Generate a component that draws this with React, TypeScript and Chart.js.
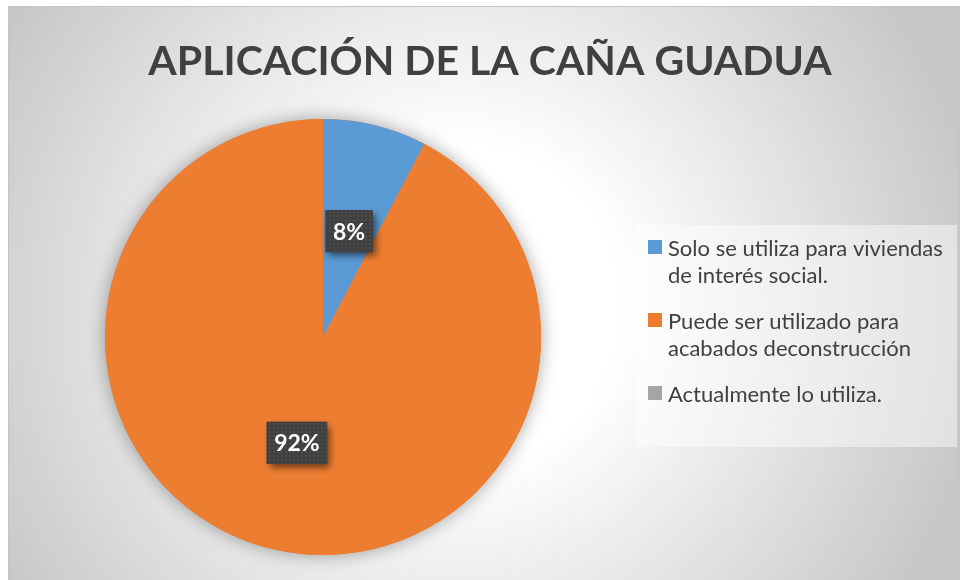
import React, { useEffect, useRef } from "react";
import { Chart, registerables } from "chart.js";

Chart.register(...registerables);

const TITLE = "APLICACIÓN DE LA CAÑA GUADUA";
const CATEGORIES: string[][] = [
  ["Solo se utiliza para viviendas", "de interés social."],
  ["Puede ser utilizado para", "acabados deconstrucción"],
  ["Actualmente lo utiliza."],
];
const VALUES = [1, 12, 0];
const COLORS = ["#5B9BD5", "#ED7D31", "#A5A5A5"];
const FONT = "Lato, Carlito, 'Open Sans', sans-serif";
const TEXT_COLOR = "#404040";

const W = 952;
const H = 574;

const backgroundPlugin = {
  id: "bgPlugin",
  beforeDraw(chart: any) {
    const ctx = chart.ctx as CanvasRenderingContext2D;
    ctx.save();
    const g = ctx.createRadialGradient(450, 300, 0, 450, 300, 530);
    g.addColorStop(0, "#ffffff");
    g.addColorStop(0.3, "#ffffff");
    g.addColorStop(1, "#c7c7c7");
    ctx.fillStyle = g;
    ctx.fillRect(0, 0, W, H);
    ctx.strokeStyle = "#c4c4c4";
    ctx.lineWidth = 1;
    ctx.strokeRect(0.5, 0.5, W - 1, H + 5);
    // title
    ctx.fillStyle = TEXT_COLOR;
    ctx.font = `bold 41px ${FONT}`;
    ctx.textAlign = "center";
    ctx.textBaseline = "alphabetic";
    ctx.fillText(TITLE, 482, 69);
    ctx.restore();
  },
  beforeDatasetsDraw(chart: any) {
    const meta = chart.getDatasetMeta(0);
    const arc = meta.data[0];
    if (!arc) return;
    const ctx = chart.ctx as CanvasRenderingContext2D;
    ctx.save();
    ctx.shadowColor = "rgba(0,0,0,0.35)";
    ctx.shadowBlur = 18;
    ctx.fillStyle = COLORS[1];
    ctx.beginPath();
    ctx.arc(arc.x, arc.y, arc.outerRadius, 0, Math.PI * 2);
    ctx.fill();
    ctx.restore();
  },
};

function makePattern(ctx: CanvasRenderingContext2D) {
  const c = document.createElement("canvas");
  c.width = 4;
  c.height = 4;
  const p = c.getContext("2d")!;
  p.fillStyle = "#404040";
  p.fillRect(0, 0, 4, 4);
  p.fillStyle = "#4c4c4c";
  p.fillRect(1, 1, 2, 2);
  return ctx.createPattern(c, "repeat");
}

const labelPlugin = {
  id: "labelPlugin",
  afterDatasetsDraw(chart: any) {
    const ctx = chart.ctx as CanvasRenderingContext2D;
    const meta = chart.getDatasetMeta(0);
    const data = chart.data.datasets[0].data as number[];
    const total = data.reduce((a, b) => a + b, 0);
    const pattern = makePattern(ctx);
    ctx.save();
    ctx.font = `bold 23px ${FONT}`;
    meta.data.forEach((arc: any, i: number) => {
      const v = data[i];
      if (!v) return;
      const pos = arc.tooltipPosition(false);
      const text = Math.round((v / total) * 100) + "%";
      const tw = ctx.measureText(text).width;
      const bw = tw + 15;
      const bh = 42;
      const x = pos.x - bw / 2;
      const y = pos.y - bh / 2;
      ctx.save();
      ctx.shadowColor = "rgba(0,0,0,0.55)";
      ctx.shadowBlur = 7;
      ctx.shadowOffsetX = 3;
      ctx.shadowOffsetY = 4;
      ctx.fillStyle = "#404040";
      ctx.fillRect(x, y, bw, bh);
      ctx.restore();
      if (pattern) {
        ctx.fillStyle = pattern;
        ctx.fillRect(x, y, bw, bh);
      }
      ctx.fillStyle = "#ffffff";
      ctx.textAlign = "center";
      ctx.textBaseline = "middle";
      ctx.fillText(text, pos.x, pos.y + 1);
    });
    ctx.restore();
  },
};

const legendPlugin = {
  id: "customLegend",
  afterDraw(chart: any) {
    const ctx = chart.ctx as CanvasRenderingContext2D;
    const labels = chart.data.labels as string[][];
    const colors = chart.data.datasets[0].backgroundColor as string[];
    ctx.save();
    ctx.fillStyle = "rgba(255,255,255,0.45)";
    ctx.fillRect(628, 219, 321, 222);
    ctx.font = `22px ${FONT}`;
    ctx.textAlign = "left";
    ctx.textBaseline = "alphabetic";
    let y = 250;
    labels.forEach((lines, i) => {
      ctx.fillStyle = colors[i];
      ctx.fillRect(640, y - 16, 14, 14);
      ctx.fillStyle = TEXT_COLOR;
      lines.forEach((line, j) => {
        ctx.fillText(line, 660, y + j * 27);
      });
      y += (lines.length - 1) * 27 + 46;
    });
    ctx.restore();
  },
};

export default function App() {
  const ref = useRef<HTMLCanvasElement | null>(null);
  useEffect(() => {
    if (!ref.current) return;
    const chart = new Chart(ref.current, {
      type: "pie",
      data: {
        labels: CATEGORIES,
        datasets: [
          {
            data: VALUES,
            backgroundColor: COLORS,
            borderWidth: 0,
          },
        ],
      },
      options: {
        responsive: false,
        animation: false,
        layout: { padding: { left: 97, right: 419, top: 113, bottom: 25 } },
        plugins: {
          legend: { display: false },
          title: { display: false },
          tooltip: { enabled: false },
        },
      },
      plugins: [backgroundPlugin, labelPlugin, legendPlugin],
    });
    return () => chart.destroy();
  }, []);
  return (
    <div style={{ position: "absolute", left: 8, top: 6, width: W, height: H }}>
      <canvas ref={ref} width={W} height={H} style={{ display: "block" }} />
    </div>
  );
}
